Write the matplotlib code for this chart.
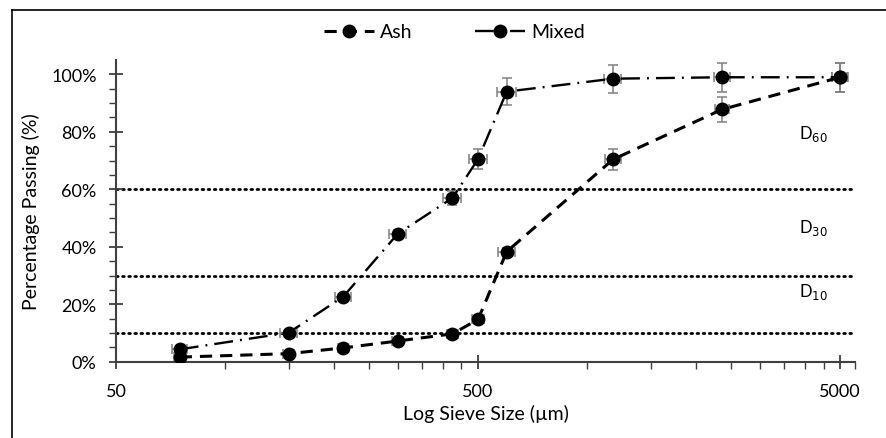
"""
Particle size distribution of ash and mixed samples (log sieve size)
"""
import matplotlib
matplotlib.use('Agg')
import matplotlib.pyplot as plt
from matplotlib.lines import Line2D
from matplotlib.ticker import FixedLocator, NullFormatter, FuncFormatter

# pylint: disable=invalid-name

plt.rcParams['font.family'] = ['Lato', 'DejaVu Sans']

sieve_size = [75, 150, 212, 300, 425, 500, 600, 1180, 2360, 5000]
ash_pass = [1.6, 2.8, 4.8, 7.2, 9.7, 14.7, 38.3, 70.4, 87.8, 99.0]
mixed_pass = [4.3, 10.1, 22.6, 44.5, 57.0, 70.5, 94.0, 98.5, 99.0, 99.0]
ash_yerr = [0.5, 0.5, 0.5, 0.6, 0.6, 1.0, 1.2, 3.6, 4.3, 5.0]
mixed_yerr = [1.0, 1.0, 1.0, 1.4, 2.3, 3.4, 4.6, 4.9, 5.0, 5.0]
ash_xerr = [2.5, 5, 7, 10, 15, 20, 33, 60, 110, 240]
mixed_xerr = [3.5, 8, 11, 17, 24, 28, 35, 64, 115, 245]
d_labels = ['D$_{60}$', 'D$_{30}$', 'D$_{10}$']
d_label_y = [79.5, 47.0, 24.5]
d_lines = [60, 30, 10]

if __name__ == "__main__":
    fig = plt.figure(figsize=(8.87, 4.39), dpi=100)
    ax = fig.add_axes([0.1308, 0.1738, 0.964 - 0.1308, 0.861 - 0.1738])
    ax.set_xscale('log')
    ax.set_xlim(50, 5500)
    ax.set_ylim(0, 105)

    for yv in d_lines:
        ax.axhline(yv, color='black', lw=2.0, linestyle=(0, (0.6, 1.6)),
                   dash_capstyle='round', zorder=1)

    err_kw = dict(fmt='none', ecolor='#808080', elinewidth=1.1, capsize=3.5,
                  capthick=1.1, zorder=2)
    ax.errorbar(sieve_size, ash_pass, yerr=ash_yerr, xerr=ash_xerr, **err_kw)
    ax.errorbar(sieve_size, mixed_pass, yerr=mixed_yerr, xerr=mixed_xerr,
                **err_kw)

    ax.plot(sieve_size, ash_pass, color='black', lw=2.2, dashes=(4, 2.6),
            marker='o', markersize=9, label='Ash', zorder=3)
    ax.plot(sieve_size, mixed_pass, color='black', lw=1.7,
            dashes=(8, 3, 0.8, 3), marker='o', markersize=9,
            label='Mixed', zorder=3)

    for lab, yv in zip(d_labels, d_label_y):
        ax.text(3850, yv, lab, fontsize=12, va='center', ha='left')

    # axes and ticks
    for side in ('top', 'right'):
        ax.spines[side].set_visible(False)
    for side in ('left', 'bottom'):
        ax.spines[side].set_color('#404040')
        ax.spines[side].set_linewidth(1.5)
    ax.xaxis.set_major_locator(FixedLocator([50, 500, 5000]))
    ax.xaxis.set_minor_locator(FixedLocator(
        [100, 150, 200, 250, 300, 350, 400, 450] +
        [1000, 1500, 2000, 2500, 3000, 3500, 4000, 4500, 5500]))
    ax.xaxis.set_major_formatter(FuncFormatter(lambda v, p: '{:g}'.format(v)))
    ax.xaxis.set_minor_formatter(NullFormatter())
    ax.yaxis.set_major_locator(FixedLocator([0, 20, 40, 60, 80, 100]))
    ax.yaxis.set_minor_locator(FixedLocator(range(5, 105, 5)))
    ax.yaxis.set_major_formatter(FuncFormatter(lambda v, p: '{:.0f}%'.format(v)))
    ax.tick_params(which='major', direction='inout', length=10, width=1.3,
                   color='#404040', labelsize=13, pad=9)
    ax.tick_params(which='minor', direction='out', length=5, width=1.0,
                   color='#404040')
    ax.tick_params(axis='x', which='major', pad=10)

    ax.set_xlabel('Log Sieve Size (µm)', fontsize=14, labelpad=4)
    ax.set_ylabel('Percentage Passing (%)', fontsize=14, labelpad=8)

    fig.legend(loc='center', bbox_to_anchor=(0.512, 0.925), ncol=2,
               frameon=False, fontsize=14, handlelength=2.6,
               columnspacing=3.2, handletextpad=0.3)

    # outer frame (left and top edges only)
    fig.add_artist(Line2D([12 / 887, 12 / 887], [0, 1 - 11 / 439],
                          transform=fig.transFigure, color='black', lw=1.2))
    fig.add_artist(Line2D([12 / 887, 1], [1 - 11 / 439, 1 - 11 / 439],
                          transform=fig.transFigure, color='black', lw=1.2))

    fig.savefig('out.png', dpi=100)
